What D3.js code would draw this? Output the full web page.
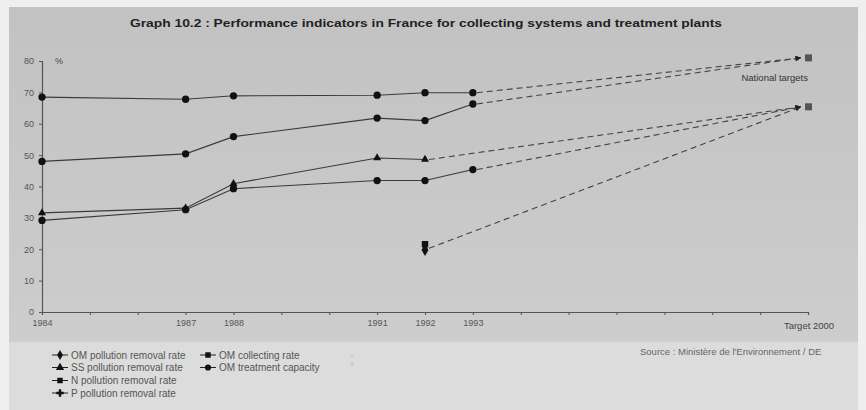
<!DOCTYPE html>
<html><head><meta charset="utf-8">
<script src="https://cdn.jsdelivr.net/npm/d3@7"></script>
<style>body{margin:0;background:#efefef;} svg{display:block;font-family:"Liberation Sans",Arial,sans-serif;}</style>
</head><body><svg id="c" width="866" height="410"></svg>
<script>
const years = [1984, 1987, 1988, 1991, 1992, 1993];
const yearLabels = ["1984", "1987", "1988", "1991", "1992", "1993"];
const targetYear = 2000;
const targetLabel = "Target 2000";
const yTicks = [0, 10, 20, 30, 40, 50, 60, 70, 80];

const omTreatmentCapacity = [68.5, 67.8, 68.9, 69.1, 69.9, 69.9];
const omCollectingRate    = [48.0, 50.4, 55.9, 61.8, 61.0, 66.3];
const ssRemovalRate       = [31.6, 33.1, 40.9, 49.1, 48.6, null];
const omRemovalRate       = [29.2, 32.6, 39.3, 41.9, 41.9, 45.4];
const nRemovalRate        = [null, null, null, null, 21.6, null];
const pRemovalRate        = [null, null, null, null, 19.8, null];
const targetHigh = 81;
const targetLow = 65.4;

const svg = d3.select("#c");
svg.append("rect").attr("x",0).attr("y",0).attr("width",866).attr("height",410).attr("fill","#efefef");
const grad = svg.append("defs").append("linearGradient").attr("id","g").attr("x1",0).attr("y1",0).attr("x2",0).attr("y2",1);
grad.append("stop").attr("offset","0").attr("stop-color","#c2c2c2");
grad.append("stop").attr("offset","1").attr("stop-color","#cdcdcd");
svg.append("rect").attr("x",9).attr("y",7).attr("width",849).attr("height",335).attr("fill","url(#g)");
svg.append("rect").attr("x",9).attr("y",342).attr("width",849).attr("height",68).attr("fill","#dcdcdc");

const x = d3.scaleLinear().domain([1984, 2000]).range([42, 808]);
const y = d3.scaleLinear().domain([0, 80]).range([312, 61]);

svg.append("text").attr("x",426).attr("y",27).attr("text-anchor","middle")
  .attr("font-size",11).attr("font-weight","bold").attr("fill","#222")
  .attr("textLength",592).attr("lengthAdjust","spacingAndGlyphs")
  .text("Graph 10.2 : Performance indicators in France for collecting systems and treatment plants");

const yAxis = d3.axisLeft(y).tickValues(yTicks).tickSize(3).tickPadding(5);
const gy = svg.append("g").attr("transform","translate(42,0)").call(yAxis);
const xAxis = d3.axisBottom(x).tickValues(d3.range(1984, 2001)).tickSize(3)
  .tickFormat(d => { const i = years.indexOf(d); return i >= 0 ? yearLabels[i] : ""; });
const gx = svg.append("g").attr("transform","translate(0,312)").call(xAxis);
[gx, gy].forEach(g => {
  g.select(".domain").attr("stroke","#555").attr("stroke-width",1.2);
  g.selectAll(".tick line").attr("stroke","#555");
  g.selectAll("text").attr("fill","#555").attr("font-size",9).attr("font-family","Liberation Sans, Arial, sans-serif");
});
gx.selectAll("text").attr("dy","0.9em");
svg.append("text").attr("x",x(targetYear)+1).attr("y",329).attr("text-anchor","middle")
  .attr("font-size",9.5).attr("fill","#444").text(targetLabel);
svg.append("text").attr("x",55).attr("y",64).attr("font-size",9).attr("fill","#444").text("%");

const line = d3.line().defined(d => d[1] != null).x(d => x(d[0])).y(d => y(d[1]));
const stroke = "#3a3a3a";
function series(vals, marker) {
  const pts = years.map((yr, i) => [yr, vals[i]]);
  svg.append("path").datum(pts).attr("d", line).attr("fill","none").attr("stroke",stroke).attr("stroke-width",1.1);
  const sym = d3.symbol().type(marker).size(marker === d3.symbolTriangle ? 28 : 42);
  svg.selectAll(null).data(pts.filter(d => d[1] != null)).enter().append("path")
    .attr("d", sym).attr("transform", d => `translate(${x(d[0])},${y(d[1])})`).attr("fill","#111");
}
series(omTreatmentCapacity, d3.symbolCircle);
series(omCollectingRate, d3.symbolCircle);
series(ssRemovalRate, d3.symbolTriangle);
series(omRemovalRate, d3.symbolCircle);
series(nRemovalRate, d3.symbolSquare);
series(pRemovalRate, d3.symbolDiamond);

svg.append("defs").append("marker").attr("id","arr").attr("viewBox","0 0 10 10").attr("refX",10).attr("refY",5)
  .attr("markerWidth",6).attr("markerHeight",5).attr("orient","auto").append("path").attr("d","M0,0L10,5L0,10z").attr("fill","#222");
const proj = [
  [1993, omTreatmentCapacity[5], targetHigh],
  [1993, omCollectingRate[5], targetHigh],
  [1992, ssRemovalRate[4], targetLow],
  [1993, omRemovalRate[5], targetLow],
  [1992, 20.3, targetLow]
];
proj.forEach(p => {
  const x0 = x(p[0]) + 4, y0 = y(p[1]), x1 = x(targetYear) - 7, y1 = y(p[2]);
  svg.append("line").attr("x1",x0).attr("y1",y0).attr("x2",x1).attr("y2",y1)
    .attr("stroke","#444").attr("stroke-width",1.1).attr("stroke-dasharray","6,4").attr("marker-end","url(#arr)");
});
[targetHigh, targetLow].forEach(t => {
  svg.append("rect").attr("x",x(targetYear)-3).attr("y",y(t)-3.5).attr("width",7).attr("height",7).attr("fill","#555");
});
svg.append("text").attr("x",x(targetYear)).attr("y",y(73.5)).attr("text-anchor","end").attr("font-size",9.5).attr("fill","#333").text("National targets");

const legend = [
  ["OM pollution removal rate", d3.symbolDiamond, 60, 355],
  ["SS pollution removal rate", d3.symbolTriangle, 60, 367.5],
  ["N pollution removal rate", d3.symbolSquare, 60, 380.5],
  ["P pollution removal rate", d3.symbolCross, 60, 393],
  ["OM collecting rate", d3.symbolSquare, 208, 355],
  ["OM treatment capacity", d3.symbolCircle, 208, 367.5]
];
legend.forEach(l => {
  svg.append("line").attr("x1",l[2]-8).attr("x2",l[2]+8).attr("y1",l[3]).attr("y2",l[3]).attr("stroke","#222").attr("stroke-width",1);
  svg.append("path").attr("d", d3.symbol().type(l[1]).size(30)()).attr("transform",`translate(${l[2]},${l[3]})`).attr("fill","#111");
  svg.append("text").attr("x",l[2]+11).attr("y",l[3]+3.5).attr("font-size",10).attr("fill","#555").text(l[0]);
});
svg.append("text").attr("x",350).attr("y",358).attr("font-size",7).attr("fill","#aaa").text("~");
svg.append("text").attr("x",350).attr("y",367).attr("font-size",7).attr("fill","#aaa").text("=");
svg.append("text").attr("x",640).attr("y",355).attr("font-size",9.5).attr("fill","#666").text("Source : Ministère de l'Environnement / DE");
</script></body></html>
